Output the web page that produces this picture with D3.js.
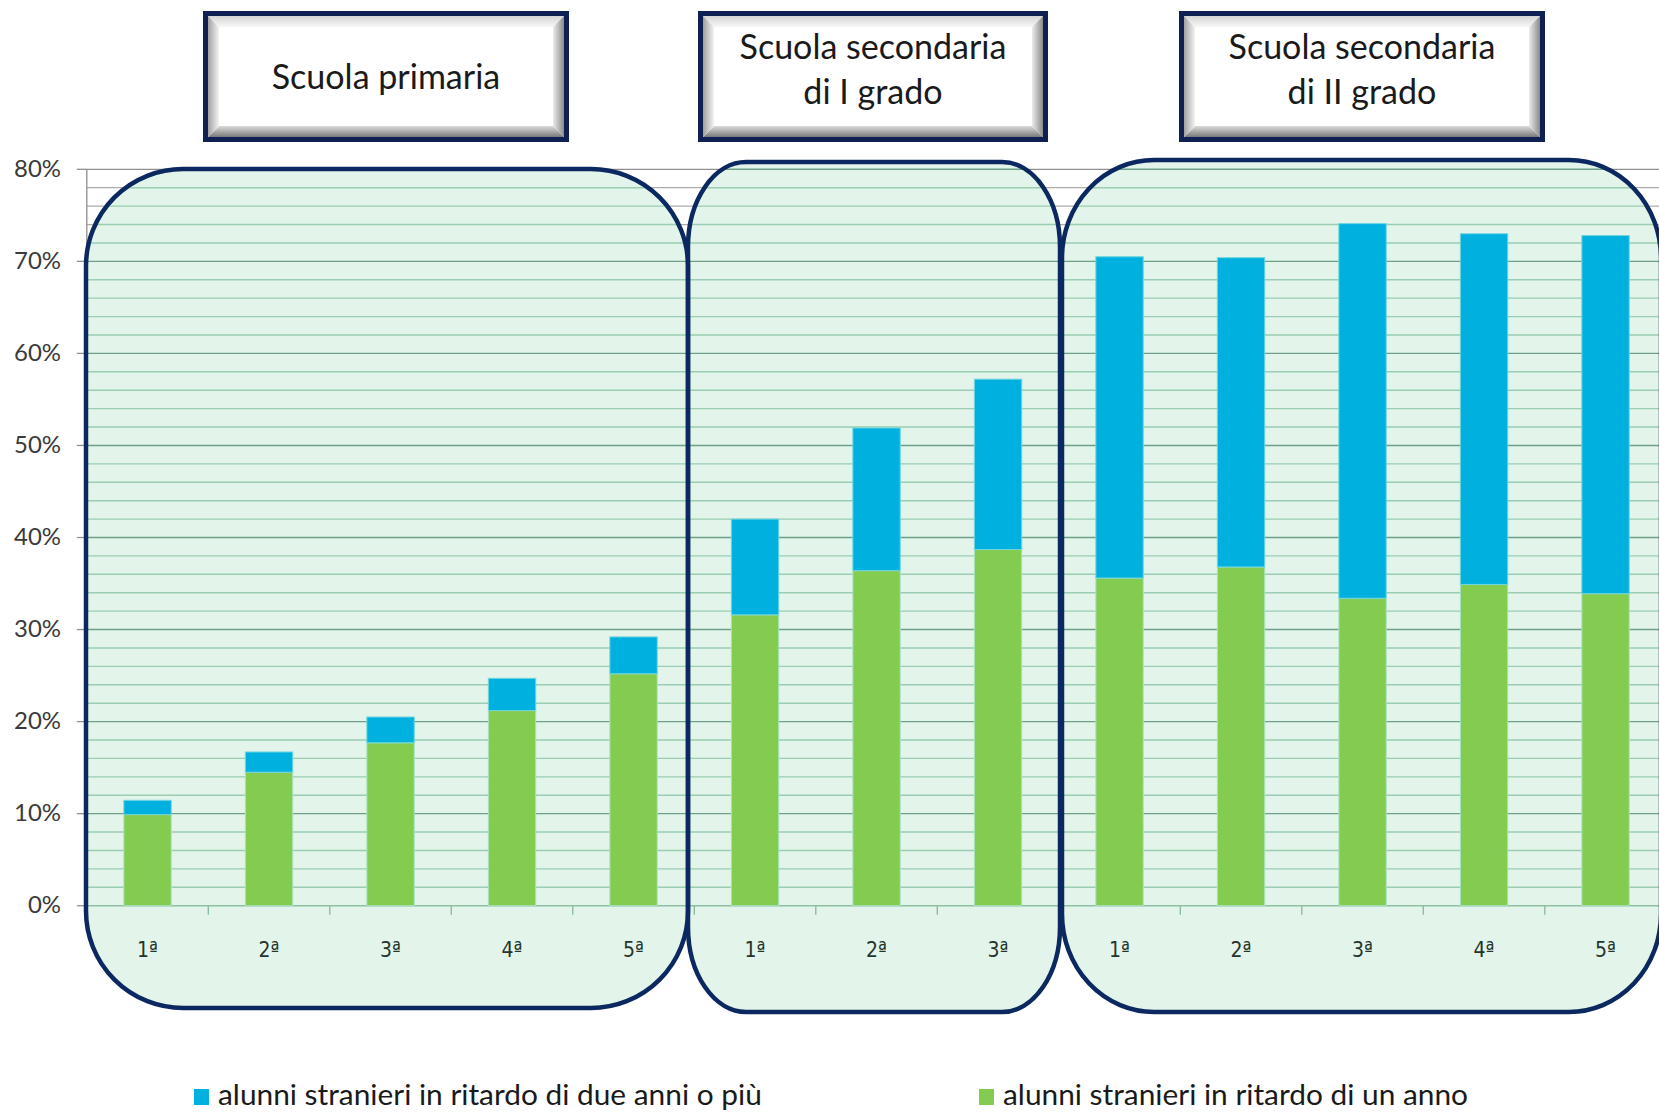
<!DOCTYPE html>
<html><head><meta charset="utf-8">
<script src="https://cdn.jsdelivr.net/npm/d3@7"></script>
<style>html,body{margin:0;padding:0;background:#fff;overflow:hidden}</style>
</head><body>
<svg id="c" width="1659" height="1114" xmlns="http://www.w3.org/2000/svg"></svg>
<script>
// ---------- DATA ----------
const categories = ["1ª","2ª","3ª","4ª","5ª","1ª","2ª","3ª","1ª","2ª","3ª","4ª","5ª"];
const groupTitles = [["Scuola primaria"],["Scuola secondaria","di I grado"],["Scuola secondaria","di II grado"]];
const groupSizes = [5,3,5];
const ritardoUnAnno  = [9.9,14.5,17.7,21.2,25.2,31.6,36.4,38.7,35.6,36.8,33.4,34.9,33.9];
const ritardoDueAnni = [1.55,2.2,2.8,3.5,4.0,10.4,15.5,18.5,34.9,33.6,40.7,38.1,38.9];
const yTicks = [0,10,20,30,40,50,60,70,80];
const seriesNames = ["alunni stranieri in ritardo di due anni o più","alunni stranieri in ritardo di un anno"];

// ---------- LAYOUT ----------
const W = 1659, H = 1114;
const FONT = "Lato, 'Open Sans', sans-serif";
const COL_BLUE = "#00b0df", COL_GREEN = "#84cc50";
const NAVY = "#0c2860";
const x0 = 86.8, step = 121.5;
const svg = d3.select("#c");
const defs = svg.append("defs");

const x = d3.scaleBand().domain(d3.range(categories.length))
  .range([x0, x0 + categories.length * step]).paddingInner(0.61).paddingOuter(0.305);
const y = d3.scaleLinear().domain([0, 80]).range([905.7, 169.3]);

const panels = [
  {x: 86, y: 169, w: 602, h: 839, rx: 97, ry: 97},
  {x: 688, y: 162, w: 372, h: 850, rx: 58, ry: 85},
  {x: 1062, y: 160, w: 599, h: 852, rx: 92, ry: 98}
];
const boxes = [
  {x: 203, y: 11, w: 366, h: 131},
  {x: 698, y: 11, w: 350, h: 131},
  {x: 1179, y: 11, w: 366, h: 131}
];

const gridVals = d3.range(0, 81, 2);
const isMajor = v => v % 10 === 0;

// gray grid (outside panels)
svg.append("g").selectAll("line").data(gridVals).join("line")
  .attr("x1", x0).attr("x2", W).attr("y1", d => y(d)).attr("y2", d => y(d))
  .attr("stroke", d => isMajor(d) ? "#8f8f8f" : "#ababab").attr("stroke-width", 1.3);

// y axis line + ticks
svg.append("line").attr("x1", x0).attr("x2", x0).attr("y1", y(80)).attr("y2", y(0))
  .attr("stroke", "#8f8f8f").attr("stroke-width", 1.3);
svg.append("g").selectAll("line").data(yTicks).join("line")
  .attr("x1", x0 - 10).attr("x2", x0).attr("y1", d => y(d)).attr("y2", d => y(d))
  .attr("stroke", "#8f8f8f").attr("stroke-width", 1.3);

// panel fills
svg.append("g").selectAll("rect").data(panels).join("rect")
  .attr("x", d => d.x).attr("y", d => d.y).attr("width", d => d.w).attr("height", d => d.h)
  .attr("rx", d => d.rx).attr("ry", d => d.ry).attr("fill", "#e3f5ea");

// clip for green grid
const clip = defs.append("clipPath").attr("id", "pclip");
clip.selectAll("rect").data(panels).join("rect")
  .attr("x", d => d.x).attr("y", d => d.y).attr("width", d => d.w).attr("height", d => d.h)
  .attr("rx", d => d.rx).attr("ry", d => d.ry);

svg.append("g").attr("clip-path", "url(#pclip)").selectAll("line").data(gridVals).join("line")
  .attr("x1", x0).attr("x2", W).attr("y1", d => y(d)).attr("y2", d => y(d))
  .attr("stroke", d => d === 0 ? "#8dbfa3" : (isMajor(d) ? "#6e9f87" : "#9acdb1")).attr("stroke-width", 1.4);

// x ticks at band boundaries
const bounds = d3.range(1, categories.length);
svg.append("g").selectAll("line").data(bounds).join("line")
  .attr("x1", i => x0 + i * step).attr("x2", i => x0 + i * step)
  .attr("y1", y(0)).attr("y2", y(0) + 9)
  .attr("stroke", "#86b89c").attr("stroke-width", 1.3);

// bars
const barsG = svg.append("g");
barsG.selectAll("rect.g").data(ritardoUnAnno).join("rect").attr("class", "g")
  .attr("x", (d, i) => x(i)).attr("width", x.bandwidth())
  .attr("y", d => y(d)).attr("height", d => y(0) - y(d))
  .attr("fill", COL_GREEN).attr("stroke", "#a9e3c6").attr("stroke-width", 1);
barsG.selectAll("rect.b").data(ritardoDueAnni).join("rect").attr("class", "b")
  .attr("x", (d, i) => x(i)).attr("width", x.bandwidth())
  .attr("y", (d, i) => y(ritardoUnAnno[i] + d)).attr("height", (d, i) => y(ritardoUnAnno[i]) - y(ritardoUnAnno[i] + d))
  .attr("fill", COL_BLUE).attr("stroke", "#6fd6df").attr("stroke-width", 1);

// panel outlines
svg.append("g").selectAll("rect").data(panels).join("rect")
  .attr("x", d => d.x).attr("y", d => d.y).attr("width", d => d.w).attr("height", d => d.h)
  .attr("rx", d => d.rx).attr("ry", d => d.ry).attr("fill", "none")
  .attr("stroke", NAVY).attr("stroke-width", 4.5);

// y labels
const yl = svg.append("g").selectAll("text").data(yTicks).join("text")
  .attr("x", 61).attr("y", d => y(d) + 7.5).attr("text-anchor", "end")
  .attr("font-family", FONT).attr("font-size", 22).attr("fill", "#3a3a3a")
  .text(d => d + "%");
{
  const n = yl.filter(d => d === 80).node();
  const fs = 22 * 47 / n.getComputedTextLength();
  yl.attr("font-size", fs);
}

// x labels
svg.append("g").selectAll("text").data(categories).join("text")
  .attr("x", (d, i) => x(i) + x.bandwidth() / 2).attr("y", 957)
  .attr("text-anchor", "middle").attr("font-family", "'DejaVu Sans Condensed', 'DejaVu Sans', sans-serif")
  .attr("font-size", 21).attr("fill", "#25342c").text(d => d);

// title boxes with bevel
function grad(id, x1, y1, x2, y2, c1, c2) {
  const g = defs.append("linearGradient").attr("id", id)
    .attr("x1", x1).attr("y1", y1).attr("x2", x2).attr("y2", y2);
  g.append("stop").attr("offset", "0%").attr("stop-color", c1);
  g.append("stop").attr("offset", "100%").attr("stop-color", c2);
}
grad("gTop", 0, 0, 0, 1, "#d4d4d4", "#f8f8f8");
grad("gBot", 0, 1, 0, 0, "#7a7a7a", "#dcdcdc");
grad("gLeft", 0, 0, 1, 0, "#a0a0a0", "#f4f4f4");
grad("gRight", 1, 0, 0, 0, "#8a8a8a", "#ececec");

const boxG = svg.append("g");
let titleTexts = [];
boxes.forEach((b, k) => {
  const g = boxG.append("g");
  g.append("rect").attr("x", b.x).attr("y", b.y).attr("width", b.w).attr("height", b.h).attr("fill", "#0e2152");
  const ix = b.x + 5, iy = b.y + 5, iw = b.w - 10, ih = b.h - 10, bv = 11;
  g.append("rect").attr("x", ix).attr("y", iy).attr("width", iw).attr("height", ih).attr("fill", "#fff");
  const P = pts => pts.map(p => p.join(",")).join(" ");
  g.append("polygon").attr("points", P([[ix, iy], [ix + iw, iy], [ix + iw - bv, iy + bv], [ix + bv, iy + bv]])).attr("fill", "url(#gTop)");
  g.append("polygon").attr("points", P([[ix, iy + ih], [ix + iw, iy + ih], [ix + iw - bv, iy + ih - bv], [ix + bv, iy + ih - bv]])).attr("fill", "url(#gBot)");
  g.append("polygon").attr("points", P([[ix, iy], [ix + bv, iy + bv], [ix + bv, iy + ih - bv], [ix, iy + ih]])).attr("fill", "url(#gLeft)");
  g.append("polygon").attr("points", P([[ix + iw, iy], [ix + iw - bv, iy + bv], [ix + iw - bv, iy + ih - bv], [ix + iw, iy + ih]])).attr("fill", "url(#gRight)");
  const lines = groupTitles[k];
  const cx = b.x + b.w / 2;
  const ys = lines.length === 1 ? [89] : [59, 104];
  lines.forEach((t, j) => {
    const tx = g.append("text").attr("x", cx).attr("y", ys[j]).attr("text-anchor", "middle")
      .attr("font-family", FONT).attr("font-size", 31).attr("fill", "#1a1a1a").text(t);
    titleTexts.push(tx);
  });
});
{
  const ref = titleTexts.find(t => t.text() === "Scuola secondaria");
  const fs = 31 * 267 / ref.node().getComputedTextLength();
  titleTexts.forEach(t => t.attr("font-size", fs));
}

// legend
const legend = [
  {name: seriesNames[0], color: COL_BLUE, sx: 194, tx: 218},
  {name: seriesNames[1], color: COL_GREEN, sx: 979, tx: 1003}
];
const lg = svg.append("g");
lg.selectAll("rect").data(legend).join("rect")
  .attr("x", d => d.sx).attr("y", 1089).attr("width", 15).attr("height", 16).attr("fill", d => d.color);
const lt = lg.selectAll("text").data(legend).join("text")
  .attr("x", d => d.tx).attr("y", 1105).attr("font-family", FONT).attr("font-size", 26)
  .attr("fill", "#1a1a1a").text(d => d.name);
{
  const fs = 26 * 544 / lt.nodes()[0].getComputedTextLength();
  lt.attr("font-size", fs);
}
</script>
</body></html>
